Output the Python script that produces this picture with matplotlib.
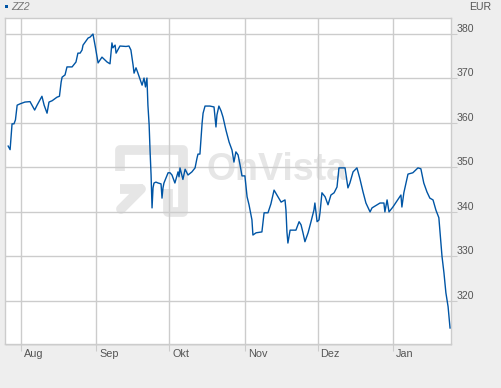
import matplotlib
matplotlib.use("Agg")
import matplotlib.pyplot as plt
import matplotlib.transforms as mtransforms
from matplotlib.patches import Rectangle
import pandas as pd

plt.rcParams["font.family"] = ["Liberation Sans", "DejaVu Sans"]

# days since 1 Aug, closing values in EUR
days = [-5.3, -4.5, -3.7, -2.9, -2.3, -1.6, -0.4, 1.6, 3.7, 4.5, 5.6, 6.6, 8.6, 9.5,
        10.7, 11.5, 12.8, 14.8, 15.8, 16.5, 16.9, 18.1, 18.9, 21.0, 22.6, 23.4, 24.3,
        25.1, 25.5, 27.6, 28.4, 29.6, 30.6, 31.7, 33.3, 35.4, 36.6, 37.4, 37.8, 38.7,
        39.1, 40.7, 43.2, 44.4, 45.2, 46.1, 46.5, 47.3, 48.1, 49.8, 50.6, 51.2, 51.8,
        52.2, 52.7, 53.1, 53.5, 53.9, 54.3, 54.7, 55.5, 56.4, 57.6, 58.0, 58.4, 58.8,
        60.5, 61.3, 62.1, 63.3, 64.6, 65.0, 65.4, 66.6, 67.5, 68.7, 70.3, 71.6, 72.4,
        72.8, 73.6, 74.0, 74.5, 74.9, 75.7, 77.7, 79.4, 80.2, 80.6, 81.4, 82.3, 83.1,
        84.3, 85.6, 86.8, 87.6, 88.4, 89.3, 90.1, 90.9, 92.1, 93.0, 93.8, 95.0, 95.4,
        96.7, 99.1, 100.0, 101.6, 102.8, 104.1, 105.3, 107.0, 108.6, 109.0, 109.4,
        109.8, 110.7, 113.1, 114.4, 115.2, 116.0, 116.8, 118.1, 119.3, 120.5, 120.9,
        121.8, 122.6, 123.0, 123.8, 125.1, 126.3, 127.5, 128.8, 130.0, 130.8, 132.0,
        133.3, 134.5, 135.3, 136.6, 138.2, 139.4, 140.7, 141.9, 143.6, 144.4, 147.7,
        149.3, 149.7, 150.6, 151.4, 153.0, 156.3, 156.7, 157.5, 158.4, 159.2, 161.2,
        163.3, 164.5, 165.7, 167.0, 168.2, 169.5, 170.7, 171.9, 172.4, 173.2, 174.0,
        174.8, 175.7, 176.5]
values = [354.8, 354.0, 359.8, 359.8, 360.7, 364.0, 364.3, 364.7, 364.8, 364.0, 362.9,
          364.0, 366.0, 364.0, 362.2, 364.7, 365.0, 365.8, 366.0, 369.2, 370.3, 370.8,
          372.6, 372.6, 373.7, 375.7, 375.7, 376.4, 377.5, 379.1, 379.3, 380.0, 377.0,
          373.5, 374.8, 373.7, 373.3, 378.0, 376.9, 377.5, 375.7, 377.3, 377.2, 377.3,
          376.4, 373.0, 371.2, 372.4, 371.2, 368.5, 370.1, 368.1, 370.1, 364.0, 359.6,
          353.5, 348.3, 340.9, 345.4, 346.5, 346.7, 346.5, 346.3, 343.1, 345.4, 346.5,
          348.8, 348.8, 348.3, 346.5, 349.0, 347.9, 349.9, 347.3, 349.6, 348.3, 349.0,
          349.9, 352.1, 353.0, 353.0, 356.2, 360.0, 362.2, 363.8, 363.8, 363.6, 359.1,
          361.8, 363.8, 362.7, 361.3, 358.4, 355.7, 353.9, 351.2, 353.5, 352.8, 350.6,
          348.1, 348.1, 343.4, 341.6, 338.2, 334.8, 335.3, 335.5, 339.8, 339.8, 341.8,
          344.9, 343.8, 342.2, 342.7, 340.4, 335.5, 333.0, 335.9, 335.9, 337.8, 337.1,
          335.3, 333.3, 335.3, 337.8, 340.4, 342.0, 337.8, 338.2, 339.8, 344.3, 343.4,
          341.6, 343.8, 344.3, 345.6, 349.9, 349.9, 349.9, 345.4, 346.5, 349.0, 349.9,
          347.5, 344.5, 342.0, 340.0, 340.9, 342.0, 342.0, 340.0, 342.7, 340.0, 341.1,
          343.8, 341.1, 344.3, 346.5, 348.5, 348.8, 349.9, 349.7, 346.5, 344.5, 343.1,
          342.7, 340.4, 338.7, 335.3, 330.0, 326.3, 321.8, 318.7, 313.9]

month_starts = pd.date_range("2012-08-01", periods=6, freq="MS")
month_names = ["Aug", "Sep", "Okt", "Nov", "Dez", "Jan"]
y_ticks = [320, 330, 340, 350, 360, 370, 380]

W, H = 501, 388
bg = "#eeeeee"
grid = "#cccccc"
txt = "#555555"

fig = plt.figure(figsize=(W / 100, H / 100), dpi=100, facecolor=bg)


def px(x, y):
    return x / W, 1 - y / H


l, t = px(5, 18)
r, b = px(451, 344)
# soft shadow behind the plot area
fig.patches.append(Rectangle(px(6, 345.5), r - l, t - b, transform=fig.transFigure,
                             facecolor="#e0e0e0", edgecolor="none", zorder=-1))
ax = fig.add_axes([l, b, r - l, t - b])
ax.set_facecolor("white")

# OnVista watermark
wm = "#e6e6e6"
ax.plot(*zip(px(120, 171), px(120, 150), px(183, 150), px(183, 212), px(168, 212),
             px(168, 189)), transform=fig.transFigure, color=wm, lw=7,
        solid_joinstyle="round", solid_capstyle="butt", zorder=0.2)
ax.plot(*zip(px(121, 209), px(141, 189)), transform=fig.transFigure, color=wm, lw=7,
        solid_capstyle="round", zorder=0.2)
ax.plot(*zip(px(120, 189), px(143, 189)), transform=fig.transFigure, color=wm, lw=7,
        solid_capstyle="butt", zorder=0.2)
ax.text(*px(206, 180), "OnVista", transform=fig.transFigure, fontsize=27,
        fontweight="bold", color=wm, ha="left", va="baseline", zorder=0.2)

offsets = [(d - month_starts[0]).days for d in month_starts]

ax.plot(days, values, color="#0055a5", lw=1.0, zorder=3)

ax.set_xlim(-6.6, 176.9)
ax.set_ylim(310.3, 383.6)

ax.set_xticks(offsets)
ax.set_xticklabels(month_names)
ax.set_yticks(y_ticks)
ax.yaxis.tick_right()
ax.grid(True, color=grid, lw=1.0)
ax.set_axisbelow(True)

for s in ax.spines.values():
    s.set_color(grid)
    s.set_linewidth(1.0)

ax.tick_params(axis="x", direction="out", length=5, color=grid, labelsize=7.8,
               labelcolor=txt, pad=-1.5)
ax.tick_params(axis="y", direction="out", length=4, color=grid, labelsize=7.6,
               labelcolor=txt, pad=0.3)

shift_x = mtransforms.ScaledTranslation(3 / 100, 0, fig.dpi_scale_trans)
for lab in ax.get_xticklabels():
    lab.set_horizontalalignment("left")
    lab.set_transform(lab.get_transform() + shift_x)
for lab in ax.get_yticklabels():
    lab.set_verticalalignment("bottom")

# header: legend marker, series name and currency
fig.patches.append(Rectangle(px(5, 8), 3 / W, 3 / H, transform=fig.transFigure,
                             facecolor="#0055a5", edgecolor="none"))
fig.text(*px(11, 7), "ZZ2", fontsize=7.6, color="#777777", style="italic",
         ha="left", va="center")
fig.text(*px(491, 7), "EUR", fontsize=7.6, color=txt, ha="right", va="center")

fig.savefig("out.png", dpi=100, facecolor=bg)
